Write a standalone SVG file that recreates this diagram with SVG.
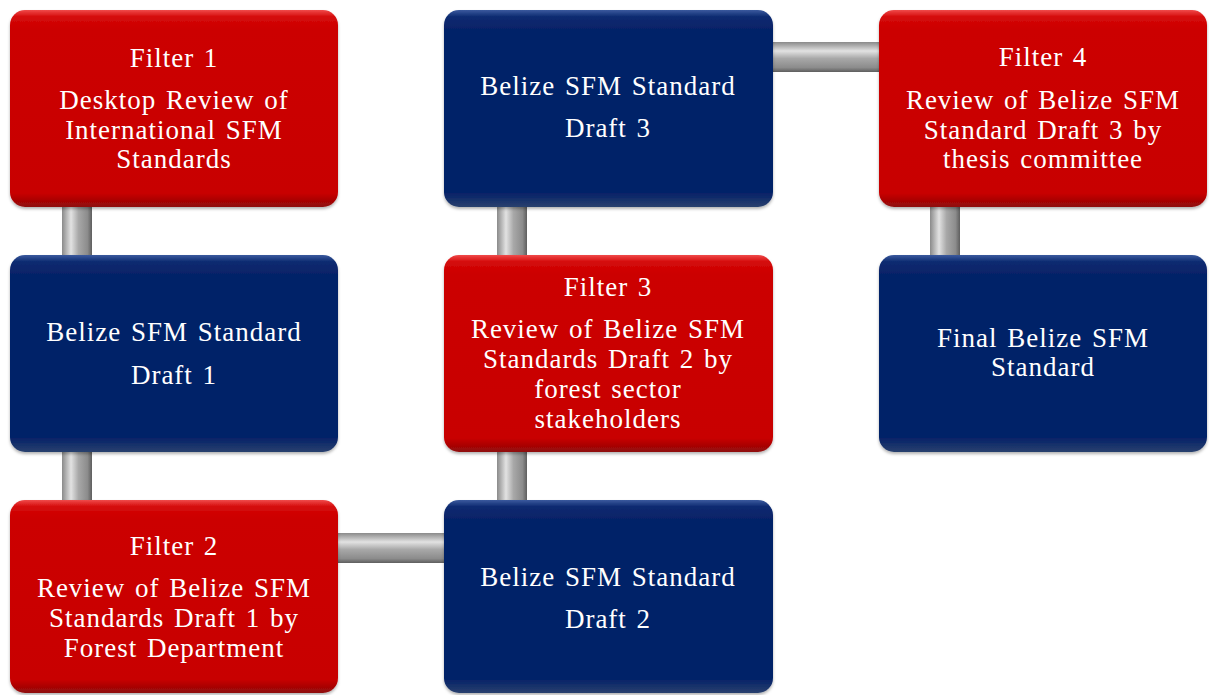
<svg xmlns="http://www.w3.org/2000/svg" width="1209" height="695" viewBox="0 0 1209 695">
  <defs>
    <linearGradient id="redFill" x1="0" y1="0" x2="0" y2="1">
      <stop offset="0" stop-color="#f04a4a"/>
      <stop offset="0.035" stop-color="#d40a0a"/>
      <stop offset="0.1" stop-color="#cc0000"/>
      <stop offset="0.93" stop-color="#c80000"/>
      <stop offset="1" stop-color="#8e0a0a"/>
    </linearGradient>
    <linearGradient id="blueFill" x1="0" y1="0" x2="0" y2="1">
      <stop offset="0" stop-color="#3a5a9e"/>
      <stop offset="0.035" stop-color="#0c2a70"/>
      <stop offset="0.1" stop-color="#062368"/>
      <stop offset="0.93" stop-color="#062368"/>
      <stop offset="1" stop-color="#29406e"/>
    </linearGradient>
    <linearGradient id="pipeV" x1="0" y1="0" x2="1" y2="0">
      <stop offset="0" stop-color="#8a8a8a"/>
      <stop offset="0.3" stop-color="#e2e2e2"/>
      <stop offset="0.55" stop-color="#a8a8a8"/>
      <stop offset="0.85" stop-color="#8c8c8c"/>
      <stop offset="1" stop-color="#5e5e5e"/>
    </linearGradient>
    <linearGradient id="pipeH" x1="0" y1="0" x2="0" y2="1">
      <stop offset="0" stop-color="#8a8a8a"/>
      <stop offset="0.3" stop-color="#e2e2e2"/>
      <stop offset="0.55" stop-color="#a8a8a8"/>
      <stop offset="0.85" stop-color="#8c8c8c"/>
      <stop offset="1" stop-color="#5e5e5e"/>
    </linearGradient>
    <filter id="shadow" x="-5%" y="-5%" width="110%" height="115%">
      <feGaussianBlur in="SourceAlpha" stdDeviation="1.5"/>
      <feOffset dx="0" dy="2" result="b"/>
      <feFlood flood-color="#000" flood-opacity="0.3"/>
      <feComposite in2="b" operator="in"/>
      <feMerge><feMergeNode/><feMergeNode in="SourceGraphic"/></feMerge>
    </filter>
  </defs>
  <style>
    .red { fill: url(#redFill); filter: url(#shadow); }
    .blue { fill: url(#blueFill); filter: url(#shadow); }
    .pv { fill: url(#pipeV); }
    .ph { fill: url(#pipeH); }
    text { font-family: "Liberation Serif", "Times New Roman", serif; font-size: 27px; letter-spacing: 1px; word-spacing: 2px; fill: #ffffff; text-anchor: middle; }
  </style>

  <!-- connectors -->
  <g id="connectors">
    <rect class="pv" x="62" y="200" width="30" height="60"/>
    <rect class="pv" x="62" y="445" width="30" height="60"/>
    <rect class="ph" x="332" y="533" width="118" height="30"/>
    <rect class="pv" x="497" y="445" width="30" height="60"/>
    <rect class="pv" x="497" y="200" width="30" height="60"/>
    <rect class="ph" x="767" y="42" width="118" height="30"/>
    <rect class="pv" x="930" y="200" width="30" height="60"/>
  </g>

  <g id="filter1">
    <rect class="red" x="10" y="10" width="328" height="197" rx="15"/>
    <text x="174" y="67">Filter 1</text>
    <text x="174" y="109">Desktop Review of</text>
    <text x="174" y="139">International SFM</text>
    <text x="174" y="168">Standards</text>
  </g>

  <g id="draft1">
    <rect class="blue" x="10" y="255" width="328" height="197" rx="15"/>
    <text x="174" y="341">Belize SFM Standard</text>
    <text x="174" y="384">Draft 1</text>
  </g>

  <g id="filter2">
    <rect class="red" x="10" y="500" width="328" height="193" rx="15"/>
    <text x="174" y="555">Filter 2</text>
    <text x="174" y="597">Review of Belize SFM</text>
    <text x="174" y="627">Standards Draft 1 by</text>
    <text x="174" y="657">Forest Department</text>
  </g>

  <g id="draft2">
    <rect class="blue" x="444" y="500" width="329" height="193" rx="15"/>
    <text x="608" y="586">Belize SFM Standard</text>
    <text x="608" y="628">Draft 2</text>
  </g>

  <g id="filter3">
    <rect class="red" x="444" y="255" width="329" height="197" rx="15"/>
    <text x="608" y="296">Filter 3</text>
    <text x="608" y="338">Review of Belize SFM</text>
    <text x="608" y="368">Standards Draft 2 by</text>
    <text x="608" y="398">forest sector</text>
    <text x="608" y="428">stakeholders</text>
  </g>

  <g id="draft3">
    <rect class="blue" x="444" y="10" width="329" height="197" rx="15"/>
    <text x="608" y="95">Belize SFM Standard</text>
    <text x="608" y="137">Draft 3</text>
  </g>

  <g id="filter4">
    <rect class="red" x="879" y="10" width="328" height="197" rx="15"/>
    <text x="1043" y="66">Filter 4</text>
    <text x="1043" y="109">Review of Belize SFM</text>
    <text x="1043" y="139">Standard Draft 3 by</text>
    <text x="1043" y="168">thesis committee</text>
  </g>

  <g id="final">
    <rect class="blue" x="879" y="255" width="328" height="197" rx="15"/>
    <text x="1043" y="347">Final Belize SFM</text>
    <text x="1043" y="376">Standard</text>
  </g>
</svg>
